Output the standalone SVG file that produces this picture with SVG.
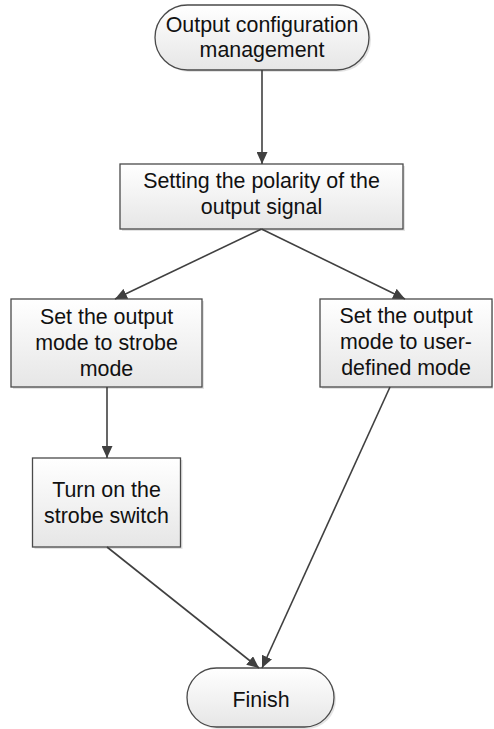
<svg xmlns="http://www.w3.org/2000/svg" width="494" height="729" viewBox="0 0 494 729">
<defs>
<linearGradient id="g" x1="0" y1="0" x2="0" y2="1">
<stop offset="0" stop-color="#ffffff"/>
<stop offset="1" stop-color="#e6e6e6"/>
</linearGradient>
<marker id="arr" markerWidth="12" markerHeight="11" viewBox="0 0 12 11" refX="12" refY="5.5" orient="auto" markerUnits="userSpaceOnUse">
<path d="M0,0 L12,5.5 L0,11 Z" fill="#404040"/>
</marker>
</defs>
<style>
.shape{fill:url(#g);stroke:#4a4a4a;stroke-width:1.3}
.shadow{fill:#d0d0d0;opacity:0.6}
text{font-family:"Liberation Sans",Arial,sans-serif;font-size:21.4px;fill:#111;text-anchor:middle}
.c{fill:none;stroke:#404040;stroke-width:1.6;marker-end:url(#arr)}
</style>
<g id="start">
<rect class="shadow" x="157" y="7" width="214" height="65" rx="32.5"/>
<rect class="shape" x="155" y="5" width="214" height="65" rx="32.5"/>
<text x="262" y="32">Output configuration</text>
<text x="262" y="57">management</text>
</g>
<g id="polarity">
<rect class="shadow" x="122" y="166" width="283" height="65"/>
<rect class="shape" x="120" y="164" width="283" height="65"/>
<text x="261.5" y="188">Setting the polarity of the</text>
<text x="261.5" y="214">output signal</text>
</g>
<g id="strobe-mode">
<rect class="shadow" x="13" y="301" width="191" height="88"/>
<rect class="shape" x="11" y="299" width="191" height="88"/>
<text x="106.5" y="324">Set the output</text>
<text x="106.5" y="350">mode to strobe</text>
<text x="106.5" y="376">mode</text>
</g>
<g id="user-mode">
<rect class="shadow" x="322" y="301" width="171" height="88"/>
<rect class="shape" x="320" y="299" width="172" height="88"/>
<text x="406" y="323">Set the output</text>
<text x="406" y="349">mode to user-</text>
<text x="406" y="375">defined mode</text>
</g>
<g id="strobe-switch">
<rect class="shadow" x="34.5" y="460" width="148" height="89"/>
<rect class="shape" x="32.5" y="458" width="148" height="89"/>
<text x="106.5" y="497">Turn on the</text>
<text x="106.5" y="523">strobe switch</text>
</g>
<g id="finish">
<rect class="shadow" x="189" y="670" width="147" height="59" rx="29.5"/>
<rect class="shape" x="187" y="668" width="147" height="59" rx="29.5"/>
<text x="261" y="707">Finish</text>
</g>
<g id="connectors">
<path class="c" d="M262,70 L262,164"/>
<path class="c" d="M261.5,229 L115,299"/>
<path class="c" d="M261.5,229 L405,299"/>
<path class="c" d="M107,387 L107,458"/>
<path class="c" d="M107,547 L259,668"/>
<path class="c" d="M390,387 L262,668"/>
</g>
</svg>
